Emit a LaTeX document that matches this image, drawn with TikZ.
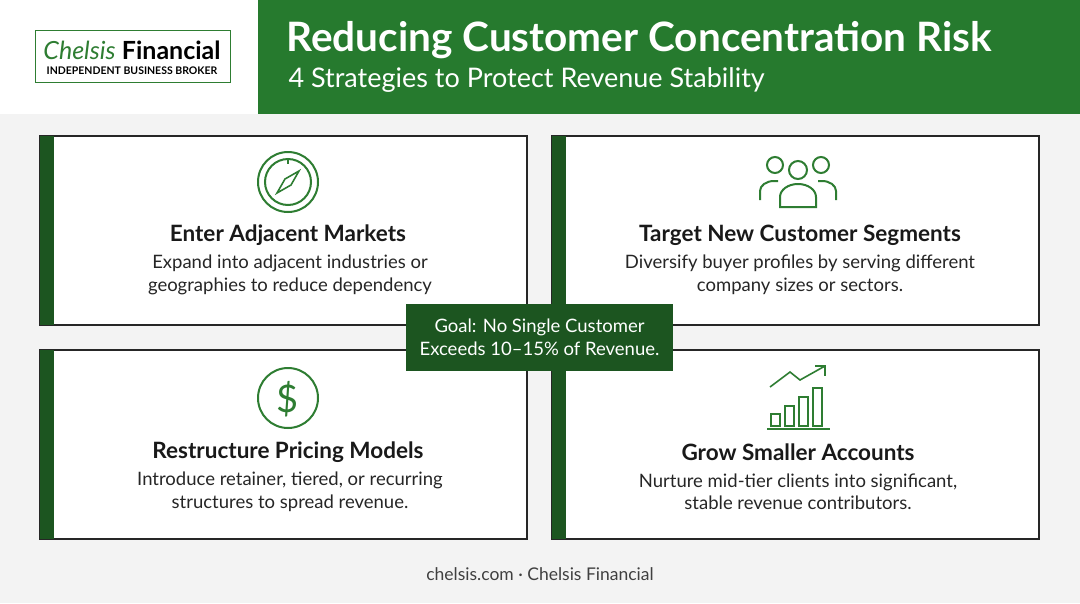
\documentclass[tikz,border=0pt]{standalone}
\usepackage{fontspec}
\setmainfont{Lato}
\definecolor{hdrgreen}{HTML}{267A2E}
\definecolor{darkgreen}{HTML}{1C5520}
\definecolor{icongreen}{HTML}{2E7D32}
\definecolor{bggray}{HTML}{F3F3F3}
\tikzset{card/.style={draw=black!85,line width=1.3pt,fill=white},
  strip/.style={fill=darkgreen},
  ttl/.style={font=\bfseries\fontsize{22.5}{26}\selectfont,text=black!90},
  txt/.style={font=\fontsize{18.5}{22.5}\selectfont,text=black!85,align=center},
  ico/.style={draw=icongreen,line width=2pt}}
\begin{document}
\begin{tikzpicture}[x=1pt,y=-1pt]
\useasboundingbox (0,0) rectangle (1080,603);
\fill[bggray] (0,0) rectangle (1080,603);
\fill[white] (0,0) rectangle (258,114);
\fill[hdrgreen] (258,0) rectangle (1080,114);
% logo
\draw[icongreen,line width=1pt,fill=white] (35,30) rectangle (230,82);
\node (logo) at (132,50) {\fontsize{25}{27}\selectfont{\color{icongreen}\itshape Chelsis} \textbf{Financial}};
\node[font=\fontsize{10.5}{12}\selectfont\bfseries] (broker) at (132,71) {INDEPENDENT BUSINESS BROKER};
% title
\node[anchor=west,text=white,font=\bfseries\fontsize{40.5}{45}\selectfont] (title) at (283,40) {Reducing Customer Concentration Risk};
\node[anchor=west,text=white,font=\fontsize{27}{31}\selectfont] (sub) at (285,80) {4 Strategies to Protect Revenue Stability};
% cards
\foreach \x/\y in {40/136,552/136,40/350,552/350}{
  \draw[card] (\x,\y) rectangle ++(487,189);
  \fill[strip] (\x,\y) rectangle ++(14,189);
}
% compass
\draw[ico] (288,182) circle (30);
\draw[ico] (288,182) circle (23);
\draw[ico] (288,159) -- (288,164);
\draw[ico,line width=1.6pt] (299,171) -- (291,185) -- (277,193) -- (285,179) -- cycle;
% people
\draw[ico] (798,170) circle (9);
\draw[ico] (775,165) circle (8) (821,165) circle (8);
\draw[ico] (780,207) -- (780,197) arc (180:360:18 and 13) -- (816,207) -- cycle;
\draw[ico] (760,200) -- (760,191) arc (180:270:14 and 10) -- (778,181);
\draw[ico] (836,200) -- (836,191) arc (360:270:14 and 10) -- (818,181);
% dollar
\draw[ico] (288,398) circle (30);
\node[text=icongreen,font=\fontsize{38}{42}\selectfont] (dollar) at (288,399) {\$};
% chart
\draw[ico] (767,429) -- (830,429);
\foreach \i/\h in {0/12,1/20,2/29,3/38}
  \draw[ico,line width=1.6pt] (771+\i*14,426) rectangle ++(9,-\h);
\draw[ico,line width=1.6pt] (770,387) -- (790,372) -- (800,380) -- (825,366);
\draw[ico,line width=1.6pt] (815,366) -- (825,366) -- (825,376);
% texts
\node[ttl] (t1) at (288,235) {Enter Adjacent Markets};
\node[txt] (d1) at (290,275) {Expand into adjacent industries or\\geographies to reduce dependency};
\node[ttl] (t2) at (800,235) {Target New Customer Segments};
\node[txt] (d2) at (800,275) {Diversify buyer profiles by serving different\\company sizes or sectors.};
\node[ttl] (t3) at (288,452) {Restructure Pricing Models};
\node[txt] (d3) at (290,492) {Introduce retainer, tiered, or recurring\\structures to spread revenue.};
\node[ttl] (t4) at (798,452) {Grow Smaller Accounts};
\node[txt] (d4) at (798,492) {Nurture mid-tier clients into significant,\\stable revenue contributors.};
% goal
\node[fill=darkgreen,text=white,minimum width=267,minimum height=67,align=center,
  font=\fontsize{18.5}{23}\selectfont] (goal) at (539.5,337.5) {Goal: No Single Customer\\Exceeds 10--15\% of Revenue.};
\node[text=black!75,font=\fontsize{17.5}{20}\selectfont] (foot) at (540,574) {chelsis.com · Chelsis Financial};
\end{tikzpicture}
\end{document}
